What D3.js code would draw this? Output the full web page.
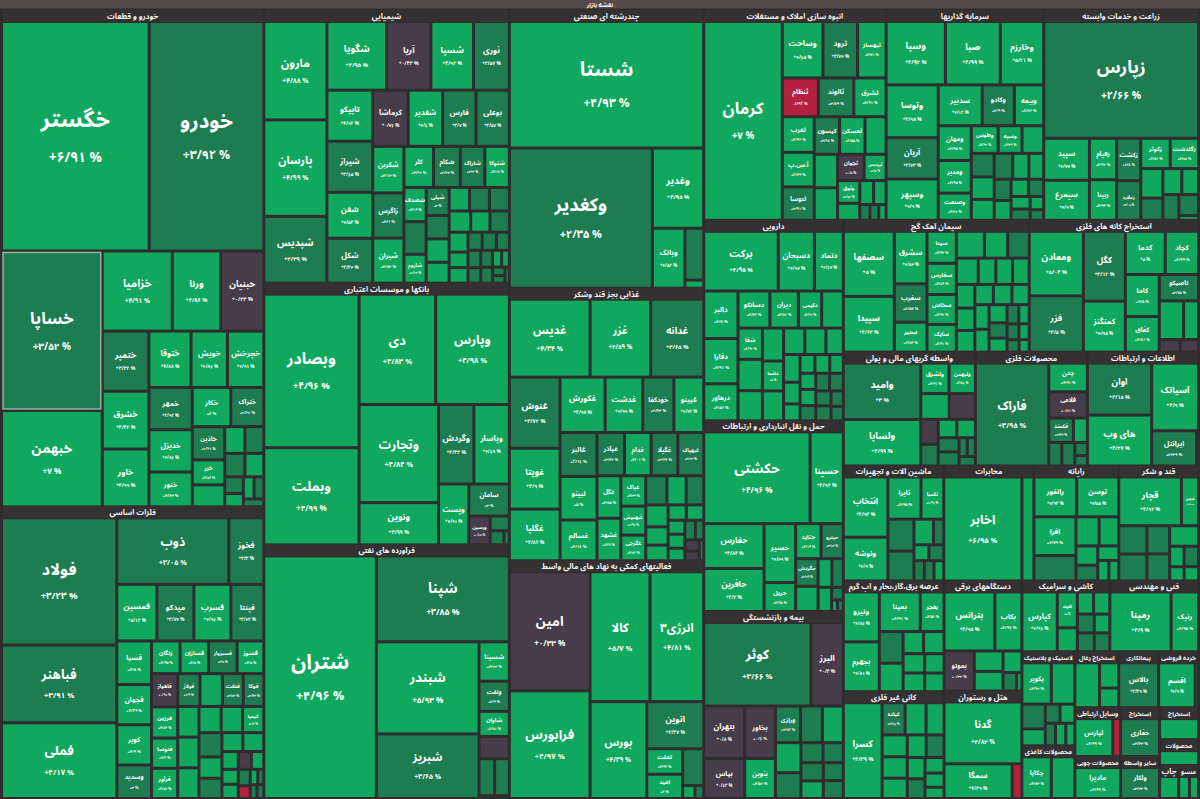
<!DOCTYPE html>
<html>
<head>
<meta charset="utf-8">
<script src="https://cdn.jsdelivr.net/npm/d3@7"></script>
<style>
html, body { margin: 0; padding: 0; background: #2e2c2d; }
svg { display: block; }
text { font-family: "Noto Sans Arabic", "DejaVu Sans", sans-serif; }
</style>
</head>
<body>
<svg id="canvas" width="1200" height="799"></svg>
<script>
let mapTitle = "نقشه بازار";

let sectorNames = [
  "خودرو و قطعات", "فلزات اساسی", "شیمیایی", "بانکها و موسسات اعتباری", "فرآورده های نفتی",
  "چندرشته ای صنعتی", "غذایی بجز قند وشکر", "فعالیتهای کمکی به نهاد های مالی واسط",
  "انبوه سازی املاک و مستغلات", "سرمایه گذاریها", "زراعت و خدمات وابسته",
  "دارویی", "حمل و نقل انبارداری و ارتباطات", "بیمه و بازنشستگی",
  "سیمان آهک گچ", "استخراج کانه های فلزی", "واسطه گریهای مالی و پولی", "محصولات فلزی",
  "اطلاعات و ارتباطات", "ماشین آلات و تجهیزات", "مخابرات", "رایانه", "قند و شکر",
  "عرضه برق،گاز،بخار و آب گرم", "کانی غیر فلزی", "دستگاههای برقی", "هتل و رستوران",
  "کاشی و سرامیک", "فنی و مهندسی", "لاستیک و پلاستیک", "محصولات کاغذی",
  "استخراج زغال سنگ", "پیمانکاری صنعتی", "خرده فروشی", "وسایل ارتباطی", "محصولات چوبی",
  "استخراج نفت گاز", "سایر واسطه گریهای مالی", "استخراج سایر معادن", "محصولات چرمی",
  "چاپ", "منسوجات"
];

// traded value of each sector
let sectorSizes = [
  1307, 768, 672, 645, 625, 542, 532, 464, 384, 332, 326, 281, 267, 262,
  246, 224, 151, 128, 127, 116, 104, 98, 92, 112, 108, 86, 84,
  62.5, 63, 50, 28, 24.6, 22.4, 22.4, 22.5, 19.3, 19.1, 16.4, 12.5, 10.1, 6.3, 6.6
];

// [symbol, change %, traded value]
let s0 = [["خگستر",6.91,314],["خودرو",3.92,244],["خساپا",3.52,149],["خبهمن",7,90],["خزامیا",4.91,52],["ورنا",4.86,36],["خبنیان",0.23,32],["ختمپر",3.32,26],["خشرق",4.42,25],["خاور",4.99,25],["ختوقا",4.88,22],["خویش",4.86,19],["خچرخش",4.91,19],["خمهر",2.92,17],["خدیزل",4.86,17],["خنور",4.63,14],["خکار",4,14],["ختراک",2.62,12],["خاذین",2.91,10],["خزر",4.56,7.5],["",4.5,6.6],["",4.6,5],["",2.8,4.7],["",3.1,4.4],["",4.7,4.1],["",3,2.9],["",4.4,2.3],["",4.5,2.2],["",3.3,2],["",2.9,1.5]];
let s1 = [["فولاد",3.23,126],["فباهنر",3.91,77],["فملی",4.17,75],["ذوب",3.05,64],["فخوز",3.3,20],["فمسین",5.12,19.5],["میدکو",3.77,18],["فسرب",4.96,18],["فپنتا",3.43,16],["فسپا",4.8,13],["فجهان",4.29,12],["کویر",4.9,12],["وسدید",3,10],["زنگان",4.95,8],["فسازان",4.8,8],["فسبزوار",3.8,8],["فسوز",4.5,7.5],["فاهواز",0.98,7.5],["فرزین",4.84,7],["فنوسا",4.6,6.8],["فرآور",4.57,6.8],["فولاژ",2.9,6.3],["",4.5,6.3],["فنفت",3.72,5.9],["فوکا",2.43,5.8],["",4.6,5.6],["",4.7,5.6],["",4.4,5.6],["",4.5,5],["",4.3,4.8],["کیمیا",4.2,4.8],["",3.1,4.8],["",4.6,4.2],["",3,4],["",4.5,3.4],["",4.6,3.4],["",4.4,2.5],["",4.2,2.1],["",4.5,2],["",0.4,2],["",4.8,1.9],["",3,1.7],["",-2.5,1.3],["",4.5,1],["",3,0.8],["",3,0.8],["",3,0.8]];
let s2 = [["مارون",4.88,53],["پارسان",4.99,52],["شپدیس",3.39,36],["شگویا",4.95,35],["آریا",0.43,26],["شسپا",4.92,25],["نوری",3.57,21],["تاپیکو",4.92,20],["شیراز",3.65,20],["شفن",4.53,18],["شکل",3.34,17.6],["کرماشا",0.76,17],["شغدیر",4.6,16.5],["فارس",3.7,16],["بوعلی",3.57,16],["شکربن",4.13,12.4],["زاگرس",3.1,12],["شیران",4.83,12],["کلر",4.62,10.4],["شکام",3.33,9.4],["شاراک",3.3,8.6],["شتوکا",4.17,8.6],["شصدف",4.19,6.5],["",3,6.2],["شاروم",4.42,5.5],["شپلی",3,5.5],["",3.2,4.6],["",4.6,4.6],["",4.5,4.1],["",4.7,4.1],["",3,4],["",3.1,4],["",4.4,3.9],["",4.5,3.5],["",3.2,3.5],["",4.6,3.2],["",4.5,2.5],["",4.5,2.5],["",3,2.2],["",3.1,2.2],["",3,2],["",2.9,1.9],["",3,1.7],["",3,1.7],["",3.2,1.6],["",4.6,1.3],["",4.5,1.1],["",3,0.9],["",3,0.8],["",3,0.6]];
let s3 = [["وبصادر",4.96,135],["وبملت",4.99,85.5],["دی",4.83,78],["وپارس",4.98,75],["وتجارت",4.84,72],["ونوین",4.99,31],["وگردش",3.43,26],["وپاسار",4.68,26],["وپست",4.91,17],["سامان",3,12],["ورسین",0.68,5.7],["",3.1,2.6],["",3,1.8],["",3,0.7]];
let s4 = [["شتران",4.96,251],["شپنا",3.85,105],["شبندر",5.93,87],["شبریز",3.65,61],["شسینا",4.23,11],["ونفت",3.9,8.4],["شاوان",4.81,7],["",0.5,6.2],["",3.2,5.3],["",3,5],["",3,0.8]];
let s5 = [["شستا",4.93,227],["وکغدیر",2.35,185],["وغدیر",4.95,38],["وبانک",4.52,18],["",3,9],["",4.5,1.4]];
let s6 = [["غدیس",4.34,54],["غزر",4.89,40.5],["غدانه",3.65,35.5],["غنوش",3.72,31],["غویتا",4.9,26.5],["غگلپا",4.86,22.5],["غکورش",4.97,21.4],["غدشت",4.99,17.9],["خودکفا",3.43,14.8],["غپینو",4.72,14.2],["غالبر",3.16,13.9],["لبینو",5,13.8],["غسالم",4.16,12.9],["غپآذر",3.43,10.2],["غدام",4.01,9.9],["غگیلا",3.64,9.9],["غبهپاک",3.43,9.6],["غگل",4.85,8.7],["غشهد",4.7,8.7],["غپاک",4.39,6.5],["غبهنوش",4.96,6.2],["غگرجی",4.76,5.5],["",3,5.3],["",4.6,4.8],["",3.2,4.4],["",4.5,4.2],["",4.6,3.5],["",4.4,3],["",4.5,2.4],["",4.6,2.3],["",4.5,2],["",4.4,2],["",4.5,1.8],["",3,1.8],["",3,1.4],["",0.3,1.4],["",0.2,1.2],["",3,0.8]];
let s7 = [["امین",0.33,84],["فرابورس",4.97,76],["کالا",5.7,68],["انرژی۳",4.81,61],["بورس",4.39,48],["اتوین",3.47,23.5],["تملت",4.96,8],["امید",4,7.6],["",3,6.8],["",4.5,1.4],["",3,1]];
let s8 = [["کرمان",7,136],["وساخت",4.65,20],["ثرود",3.74,17],["ثبهساز",4.71,14],["ثنظام",-1.92,12.2],["ثالوند",3.89,12],["ثشرق",4.91,10.9],["ثغرب",4.96,9.9],["آ.س.پ",4.79,9.6],["ثتوسا",3.91,9.3],["کیسون",3.68,8.3],["ثمسکن",4.55,8.3],["",4.6,6.9],["",4.5,6.8],["",4.5,6.6],["ثجوان",0.5,6.1],["ثپردیس",4.92,5],["وثوق",4.62,4.4],["",4.5,3.3],["",4.6,2.9],["",4.4,2.6],["",3,1.4],["",3,1.2],["",4.5,1]];
let s9 = [["وسپا",4.92,31.4],["صبا",4.99,29],["وخارزم",5.21,23],["وتوسا",4.98,23],["آریان",3.43,18],["وسپهر",4.9,18],["سدبیر",4.12,15],["وکادو",3.9,11],["وبیمه",4.86,10],["ومهان",4.95,9.6],["ومدیر",4.95,9],["وصنعت",4.22,7.5],["وطوس",4.92,6.2],["وسپه",4.39,5.5],["",4.5,5],["",3,4.5],["",4.5,4.3],["",4.6,4],["",3.1,4],["",4.5,3.5],["",4.4,3.2],["",3,3],["",4.6,2.8],["",4.5,2.5],["",3.2,2.2],["",4.5,2],["",3,1.8],["",4.5,1.5],["",3,1.2]];
let s10 = [["زپارس",2.66,158],["سپید",4.77,16.8],["سیمرغ",4.9,16],["زقیام",4.92,9.8],["زبینا",4.94,9.6],["زکشت",3.8,9],["زملارد",3.09,8.4],["زکوثر",4.51,7.8],["زگلدشت",4.88,7.5],["",4.5,5.7],["",3.2,4.3],["",4.6,4.3],["",4.5,3.8],["",3,3.6],["",3.1,3.6],["",4.5,0.8]];
let s11 = [["برکت",4.95,35],["دسبحان",4.97,17],["دتماد",4.67,13.6],["دالبر",4.8,12.8],["دفارا",4.91,12.2],["درهاور",4.56,10],["دسانکو",4.76,9.3],["دیران",4.72,8.3],["دکیمی",4.92,6.8],["",4.5,6.3],["شفا",4.92,6],["",4.6,6],["",4.5,5.8],["",4.6,5.5],["دلقما",5,5],["",4.4,5],["",4.5,4.4],["",4.6,4.4],["",4.5,3.6],["",4.7,3.6],["",4.5,2.8],["",4.4,2.2],["",4.5,2.2],["",4.6,2.2],["",4.5,2],["",4.4,2],["",4.6,2],["",3,1.9],["",3.1,1.9],["",3,1.9],["",3.2,1.8],["",3,1.8],["",3,1.5],["",3,1.4]];
let s12 = [["حکشتی",4.96,86.5],["حسینا",4.92,27],["حفارس",4.84,24],["حافرین",4.2,23],["حسیر",4.49,16.5],["حریل",4.95,8.1],["حتاید",4.19,7.9],["حپترو",3.63,6.9],["حگردش",3.79,5.5],["",4.5,5],["",4.6,3.5],["",3,2.9],["",4.5,2.9],["",3,1.3],["",4.5,0.6],["",3,0.6]];
let s13 = [["کوثر",3.66,75],["البرز",0.4,22.6],["بتهران",0.8,18],["بپاس",0.63,13.7],["بخاور",0.6,13.5],["بنوین",4.52,10.3],["ورازی",3.76,7.7],["",3,6.7],["",4.5,6.4],["",4.6,6.4],["",3,5.5],["",3.1,3.7],["",3,3.4],["",3,3.4],["",4.5,3.3],["",3,3],["",3.2,3]];
let s14 = [["سصفها",5,26.5],["سپیدا",4.63,22.7],["سشرق",4.84,13.7],["سغرب",3.57,10],["ستیر",4.84,7.8],["سینا",4.93,7.5],["سفارس",4.89,7.3],["سخاش",4.92,7],["سایک",4.91,6.5],["",4.5,6],["",4.6,5],["",3,4.6],["",4.5,4.6],["",4.6,3.7],["",4.5,3.5],["",4.4,3.5],["",4.5,3.5],["",4.6,3.3],["",4.5,3.2],["",4.5,3],["",4.7,3],["",4.5,2.8],["",4.4,2.8],["",4.5,2.6],["",4.6,2.6],["",3,2.2],["",4.5,2],["",3,1.8],["",4.5,1.6],["",3,1.5],["",4.4,1.3],["",3,1.2],["",4.5,1]];
let s15 = [["ومعادن",5.04,30.4],["فزر",3.5,26.5],["کگل",3.12,25.5],["کمنگنز",4.95,18.6],["کدما",5,15],["کچاد",4.99,12.5],["کاما",4.5,12.4],["کفاق",4.81,10.5],["تاصیکو",3.75,9],["",4.5,8.2],["",4.6,5],["",0.4,2.3],["",0.3,2]];
let s16 = [["وامید",3,37],["ولساپا",4.99,30.5],["ولشرق",4.91,7.3],["ولبهمن",4.86,6.8],["",4.5,6.2],["",0.5,5.7],["",0.4,3.7],["",3,3.2],["",4.5,2.9],["",4.6,2.9],["",3,2.5],["",3.1,2.5],["",3,1.3],["",3,1.3],["",3,1.3]];
let s17 = [["فاراک",3.95,64],["چدن",4.91,9.4],["فلامی",0.71,8.6],["فکمند",3.43,5.1],["",4.5,2.9],["",3,2.6],["",3,2.6],["",3,1.4],["",3,1.1]];
let s18 = [["اوان",3.15,28.8],["های وب",4.27,28.2],["آسیاتک",4.9,27.3],["ایرانتل",3.39,13.6],["",3,0.6]];
let s19 = [["انتخاب",4.94,20.4],["ونوشه",4.9,14.8],["تایرا",4.95,10.6],["تکمبا",4.96,7.3],["",3,6.3],["",3.1,5.9],["",4.5,3.8],["",3,2],["",4.5,1.8],["",3,1.8],["",3,1.6],["",3,1.5],["",4.5,1.5]];
let s20 = [["اخابر",6.95,70.6],["",4.5,10.8]];
let s21 = [["رانفور",4.93,13.4],["توسن",4.55,13.2],["افرا",4.79,12.8],["",3,8.4],["",4.5,5.3],["",4.6,4.5],["",4.5,3.3],["",3,2.7],["",4.5,2.4],["",4.4,1.8],["",4.5,1.6]];
let s22 = [["قچار",4.92,23.8],["قزوین",4.98,6.5],["",3,6.2],["",3.1,5.9],["",3,5],["",3.2,4.8],["",4.5,4.6],["",4.6,2.3],["",3,2.3],["",4.5,1.6],["",4.5,1.6]];
let s23 = [["ونیرو",4.86,14.3],["بجهرم",4.81,14.3],["بمپنا",4.91,12.9],["بفجر",4.56,7.5],["",3,6],["",4.5,5.4],["",4.6,3.6],["",4.5,3.6],["",4.4,3.3],["",4.5,3.2],["",4.6,3],["",4.5,2.9]];
let s24 = [["کسرا",4.39,27.6],["کیاده",3.76,5.5],["",4.5,5],["",4.6,4.3],["",4.5,4.1],["",4.4,4],["",4.5,3.8],["",4.6,3.2],["",3,3],["",4.5,2.8],["",3,2.6],["",4.5,2.2],["",4.4,2],["",4.5,1.6]];
let s25 = [["بترانس",4.95,25],["بکاب",4.96,13.3],["بموتو",0.32,10.1],["",4.5,4.9],["",4.6,4.7],["",4.5,3.4],["",3,2.1],["",4.5,0.8]];
let s26 = [["گدنا",4.83,35.6],["سمگا",4.39,17.5],["",-1.5,2.5]];
let s27 = [["کپارس",4.96,15.9],["کلوند",5,5.4],["",4.5,3.6],["",4.6,2.7],["",4.5,2.7],["",3,2.4],["",3.1,2.4],["",4.5,2.2],["",3,2.2]];
let s28 = [["رمپنا",4.9,29.7],["رنیک",4.95,13.3]];
let s29 = [["پکویر",4.92,9.5],["",4.5,7.6],["",3,4.5],["",4.5,3.1],["",3,2.2],["",4.6,2.2],["",3,1.8],["",4.5,1.8],["",4.5,1.6]];
let s30 = [["چکاپا",4.83,9],["",4.5,7.2]];
let s31 = [["",4.5,8],["",4.6,3.5],["",4.5,2.7]];
let s32 = [["بالاس",3.39,13.3]];
let s33 = [["اقسم",4.9,11.2],["",4.5,1]];
let s34 = [["لپارس",4.99,10.5],["",-2,2.2]];
let s35 = [["مادیرا",4.99,11.4]];
let s36 = [["حفاری",3.43,10.2]];
let s37 = [["ولکار",3.33,8.6]];
let s38 = [["",4.5,4.4]];
let s39 = [["",4.5,4]];
let s40 = [["",4.5,2.2]];
let s41 = [["",4.5,1.2],["",4.6,1]];

let sectorStocks = [s0,s1,s2,s3,s4,s5,s6,s7,s8,s9,s10,s11,s12,s13,s14,s15,s16,s17,s18,s19,s20,
  s21,s22,s23,s24,s25,s26,s27,s28,s29,s30,s31,s32,s33,s34,s35,s36,s37,s38,s39,s40,s41];

let highlighted = "خساپا";

// how the sectors are grouped: dice = side by side, slice = stacked
let layout = ["dice",
  ["slice", 0, 1],
  ["slice", 2, 3, 4],
  ["slice", 5, 6, 7],
  ["slice",
    ["dice", 8, 9, 10],
    ["dice",
      ["slice", 11, 12, 13],
      ["slice",
        ["dice", 14, 15],
        ["dice", 16, 17, 18],
        ["dice", 19, 20, 21, 22],
        ["dice",
          ["slice", 23, 24],
          ["slice", 25, 26],
          ["slice",
            ["dice", 27, 28],
            ["dice",
              ["slice", 29, 30],
              ["slice",
                ["dice", 31, 32, 33],
                ["dice",
                  ["slice", 34, 35],
                  ["slice", 36, 37],
                  ["slice", 38, 39, ["dice", 40, 41]]
                ]
              ]
            ]
          ]
        ]
      ]
    ]
  ]
];

let width = 1200, height = 799;
// the map was squarified on a wider screen and then stretched to this size
let stretch = 1.2;

let buildNode = (item) => {
  if (typeof item === "number") {
    let stocks = sectorStocks[item];
    let total = d3.sum(stocks, s => s[2]);
    return {
      name: sectorNames[item],
      sector: true,
      children: stocks.slice().sort((a, b) => b[2] - a[2]).map(s => ({
        name: s[0], change: s[1], value: sectorSizes[item] * s[2] / total
      }))
    };
  }
  return { tile: item[0], children: item.slice(1).map(buildNode) };
};

let squarify = d3.treemapSquarify.ratio(1.065);

let tile = (node, x0, y0, x1, y1) => {
  if (node.data.tile === "dice") d3.treemapDice(node, x0, y0, x1, y1);
  else if (node.data.tile === "slice") d3.treemapSlice(node, x0, y0, x1, y1);
  else {
    squarify(node, x0, y0 / stretch, x1, y1 / stretch);
    node.children.forEach(c => { c.y0 *= stretch; c.y1 *= stretch; });
  }
};

let hier = d3.hierarchy(buildNode(layout)).sum(d => d.children ? 0 : d.value);

let root = d3.treemap()
  .size([width, height])
  .tile(tile)
  .paddingTop(d => d.depth === 0 ? 9 : d.data.sector ? 14 : 0)
  .paddingLeft(d => d.depth === 0 ? 3 : 0)
  .paddingRight(d => d.data.sector ? 3 : 0)
  .paddingBottom(d => d.depth === 0 ? 2 : 0)
  .paddingInner(d => d.data.sector ? 3 : 0)(hier);

let color = d3.scaleThreshold()
  .domain([0, 1, 4])
  .range(["#b3213c", "#473d4a", "#1e7c51", "#0fa85e"]);

let fa = s => s.replace(/\d/g, c => "۰۱۲۳۴۵۶۷۸۹"[c]);
let fmtChange = v => (v < 0 ? "-" : "+") + fa(String(+Math.abs(v).toFixed(2)).replace(".", "/")) + " %";

let svg = d3.select("#canvas");

svg.append("rect").attr("width", width).attr("height", height).attr("fill", "#2e2c2d");

// title bar
svg.append("rect").attr("x", 0).attr("y", 0).attr("width", width).attr("height", 8.5).attr("fill", "#574a4d");
svg.append("text")
  .attr("x", width / 2).attr("y", 4.8)
  .attr("text-anchor", "middle").attr("dominant-baseline", "central")
  .attr("font-size", 6).attr("font-weight", "bold").attr("fill", "#ffffff")
  .text(mapTitle);

// sector headers
let sectors = root.descendants().filter(d => d.data.sector);

svg.selectAll(".sector-head")
  .data(sectors)
  .enter()
  .append("rect")
  .attr("class", "sector-head")
  .attr("x", d => d.x0)
  .attr("y", d => d.y0 + 1)
  .attr("width", d => Math.max(0, d.x1 - d.x0 - 3))
  .attr("height", 12)
  .attr("fill", "#353132");

svg.selectAll(".sector-title")
  .data(sectors)
  .enter()
  .append("text")
  .attr("class", "sector-title")
  .attr("x", d => (d.x0 + d.x1 - 3) / 2)
  .attr("y", d => d.y0 + 8)
  .attr("text-anchor", "middle")
  .attr("dominant-baseline", "central")
  .attr("font-size", 7.6)
  .attr("font-weight", "bold")
  .attr("fill", "#f4f4f4")
  .text(d => d.data.name)
  .each(function (d) {
    let maxW = d.x1 - d.x0 - 4;
    let el = d3.select(this);
    // narrow sectors get a smaller title before it is cut
    let fs = 7.6;
    while (this.getComputedTextLength() > maxW && fs > 6) {
      fs -= 0.4;
      el.attr("font-size", fs);
    }
    let words = d.data.name.split(" ");
    while (this.getComputedTextLength() > maxW && words.length > 1) {
      words.pop();
      el.text(words.join(" "));
    }
    let txt = words.join(" ");
    while (this.getComputedTextLength() > maxW && txt.length > 1) {
      txt = txt.slice(0, -1);
      el.text(txt);
    }
  });

// stock tiles
let leaves = root.leaves();

svg.selectAll(".stock")
  .data(leaves)
  .enter()
  .append("rect")
  .attr("class", "stock")
  .attr("x", d => d.x0)
  .attr("y", d => d.y0)
  .attr("width", d => Math.max(0, d.x1 - d.x0))
  .attr("height", d => Math.max(0, d.y1 - d.y0))
  .attr("fill", d => color(d.data.change))
  .attr("stroke", d => d.data.name === highlighted ? "#8db4a2" : "none")
  .attr("stroke-width", 1.5);

let labelled = leaves.filter(d => d.data.name && (d.x1 - d.x0) > 14 && (d.y1 - d.y0) > 14);

let nameSize = d => {
  let w = d.x1 - d.x0, h = d.y1 - d.y0;
  let fs = Math.min(24, 3 + Math.sqrt(w * h) * 0.11);
  fs = Math.min(fs, (w - 4) / (d.data.name.length * 0.6), h / 3.3);
  return fs;
};

let labels = svg.selectAll(".label")
  .data(labelled)
  .enter()
  .append("g")
  .attr("class", "label")
  .attr("fill", "#ffffff")
  .attr("text-anchor", "middle");

labels.append("text")
  .attr("x", d => (d.x0 + d.x1) / 2)
  .attr("y", d => (d.y0 + d.y1) / 2 - nameSize(d) * 0.72)
  .attr("dominant-baseline", "central")
  .attr("font-size", d => nameSize(d))
  .attr("font-weight", "bold")
  .text(d => d.data.name);

labels.append("text")
  .attr("x", d => (d.x0 + d.x1) / 2)
  .attr("y", d => (d.y0 + d.y1) / 2 + nameSize(d) * 0.92)
  .attr("dominant-baseline", "central")
  .attr("direction", "ltr")
  .attr("font-size", d => Math.min(nameSize(d) * 0.6, (d.x1 - d.x0 - 3) / 4.4))
  .attr("font-weight", "bold")
  .text(d => fmtChange(d.data.change));
</script>
</body>
</html>
